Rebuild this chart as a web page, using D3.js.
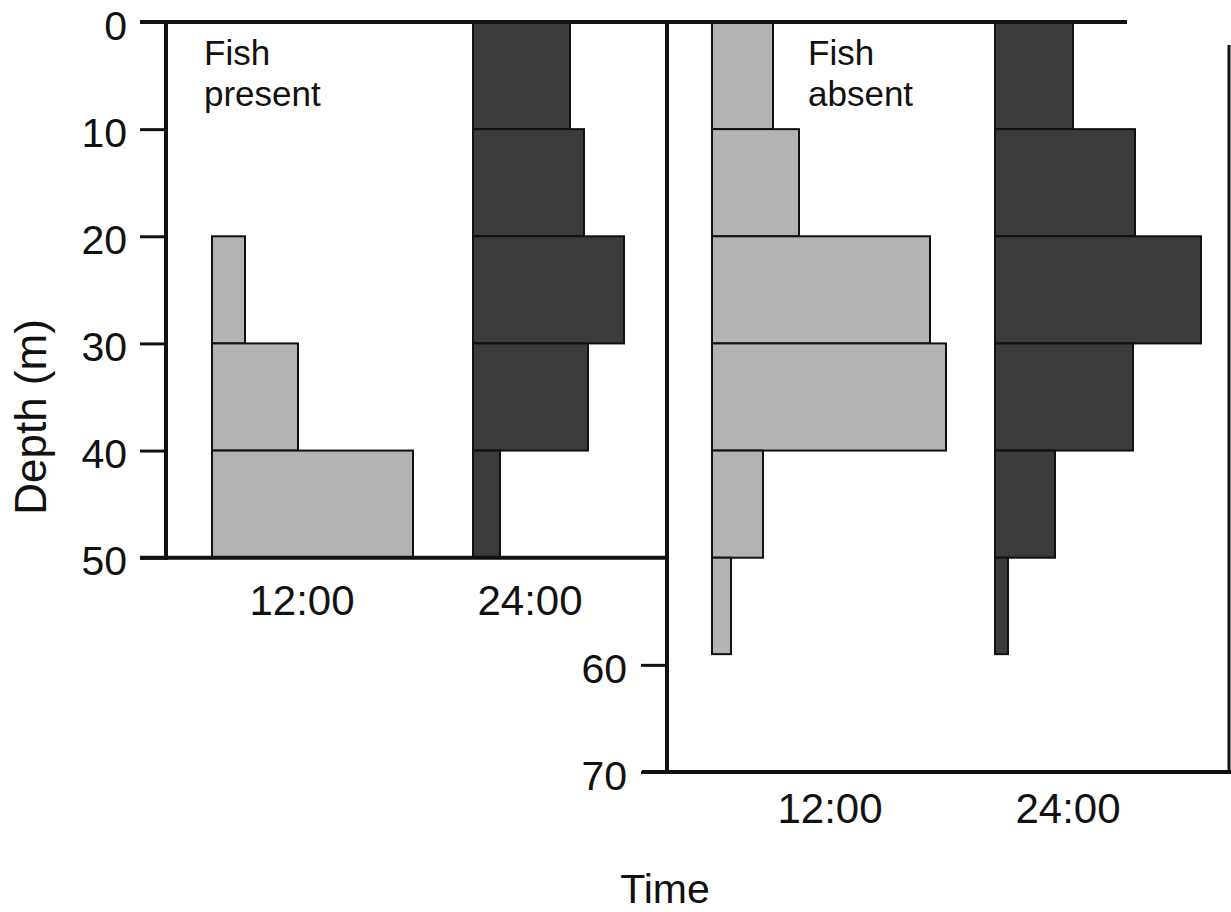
<!DOCTYPE html>
<html>
<head>
<meta charset="utf-8">
<script src="https://cdn.jsdelivr.net/npm/d3@7"></script>
<style>
  html, body { margin: 0; padding: 0; background: #fff; }
  svg { display: block; }
  text { font-family: "Liberation Sans", Arial, sans-serif; fill: #111; }
</style>
</head>
<body>
<svg id="chart" width="1231" height="912"></svg>
<script>
// ---- Data (depth bins in m, relative abundance values) ----
const times = ["12:00", "24:00"];
const binTops    = [0, 10, 20, 30, 40, 50];
const binBottoms = [10, 20, 30, 40, 50, 59];

// Fish present (no values where no bar is drawn)
const present1200 = [null, null, 6.6, 17.2, 40.2, null];
const present2400 = [19.4, 22.2, 30.2, 23.0, 5.4, null];
// Fish absent
const absent1200  = [12.2, 17.4, 43.6, 46.8, 10.2, 3.8];
const absent2400  = [15.6, 28.0, 41.2, 27.6, 12.0, 2.6];

const presentTicks = [0, 10, 20, 30, 40, 50];
const absentTicks  = [60, 70];
const panelLabels  = ["Fish\npresent", "Fish\nabsent"];
const yTitle = "Depth (m)";
const xTitle = "Time";

// ---- Drawing ----
const svg = d3.select("#chart");
const LIGHT = "#b3b3b3", DARK = "#3b3b3b";

const y = d3.scaleLinear().domain([0, 70]).range([22, 772]);
const w = d3.scaleLinear().domain([0, 10]).range([0, 50]);

const xPresent = d3.scalePoint().domain(times).range([212, 473]);
const xAbsent  = d3.scalePoint().domain(times).range([712, 995]);

function bins(values) {
  return values.map((v, i) => ({ v, d0: binTops[i], d1: binBottoms[i] }))
               .filter(d => d.v !== null);
}

function drawBars(values, x0, fill) {
  svg.append("g").selectAll("rect").data(bins(values)).join("rect")
    .attr("x", x0)
    .attr("y", d => y(d.d0))
    .attr("width", d => w(d.v))
    .attr("height", d => y(d.d1) - y(d.d0))
    .attr("fill", fill)
    .attr("stroke", "#111")
    .attr("stroke-width", 2);
}

drawBars(present1200, xPresent("12:00"), LIGHT);
drawBars(present2400, xPresent("24:00"), DARK);
drawBars(absent1200,  xAbsent("12:00"),  LIGHT);
drawBars(absent2400,  xAbsent("24:00"),  DARK);

// Frame lines
const line = (x1, y1, x2, y2, sw) => svg.append("line")
  .attr("x1", x1).attr("y1", y1).attr("x2", x2).attr("y2", y2)
  .attr("stroke", "#111").attr("stroke-width", sw);

line(140, y(0), 1127, y(0), 4);          // top line
line(166, y(0) - 2, 166, y(50) + 2, 4);  // left axis
line(140, y(50), 667, y(50), 4);         // left bottom
line(667, y(0) - 2, 667, y(70) + 2, 4);  // divider / right axis
line(642, y(70), 1231, y(70), 4);        // right bottom
line(1229, 45, 1229, y(70), 3);          // right edge

// Y axes
const axL = d3.axisLeft(y).tickValues(presentTicks).tickSize(26).tickPadding(13);
const gL = svg.append("g").attr("transform", "translate(166,0)").call(axL);
const axR = d3.axisLeft(y).tickValues(absentTicks).tickSize(26).tickPadding(14);
const gR = svg.append("g").attr("transform", "translate(667,0)").call(axR);
[gL, gR].forEach(g => {
  g.select(".domain").remove();
  g.selectAll(".tick line").attr("stroke", "#111").attr("stroke-width", 3);
  g.selectAll(".tick text").attr("font-size", 41).attr("fill", "#111")
    .attr("dy", "0.42em")
    .attr("font-family", "Liberation Sans, Arial, sans-serif");
});

// X category labels
const xLabOffPresent = { "12:00": 90, "24:00": 57 };
const xLabOffAbsent  = { "12:00": 118, "24:00": 73 };
svg.append("g").selectAll("text").data(times).join("text")
  .attr("x", d => xPresent(d) + xLabOffPresent[d]).attr("y", 615)
  .attr("text-anchor", "middle").attr("font-size", 42).text(d => d);
svg.append("g").selectAll("text").data(times).join("text")
  .attr("x", d => xAbsent(d) + xLabOffAbsent[d]).attr("y", 823)
  .attr("text-anchor", "middle").attr("font-size", 42).text(d => d);

// Panel labels
[[204, panelLabels[0]], [808, panelLabels[1]]].forEach(([px, lab]) => {
  const t = svg.append("text").attr("x", px).attr("y", 65).attr("font-size", 35);
  lab.split("\n").forEach((s, i) => t.append("tspan").attr("x", px).attr("dy", i ? 41 : 0).text(s));
});

// Axis titles
svg.append("text").attr("transform", "translate(46,417) rotate(-90)")
  .attr("text-anchor", "middle").attr("font-size", 44).text(yTitle);
svg.append("text").attr("x", 665).attr("y", 903)
  .attr("text-anchor", "middle").attr("font-size", 41).text(xTitle);
</script>
</body>
</html>
